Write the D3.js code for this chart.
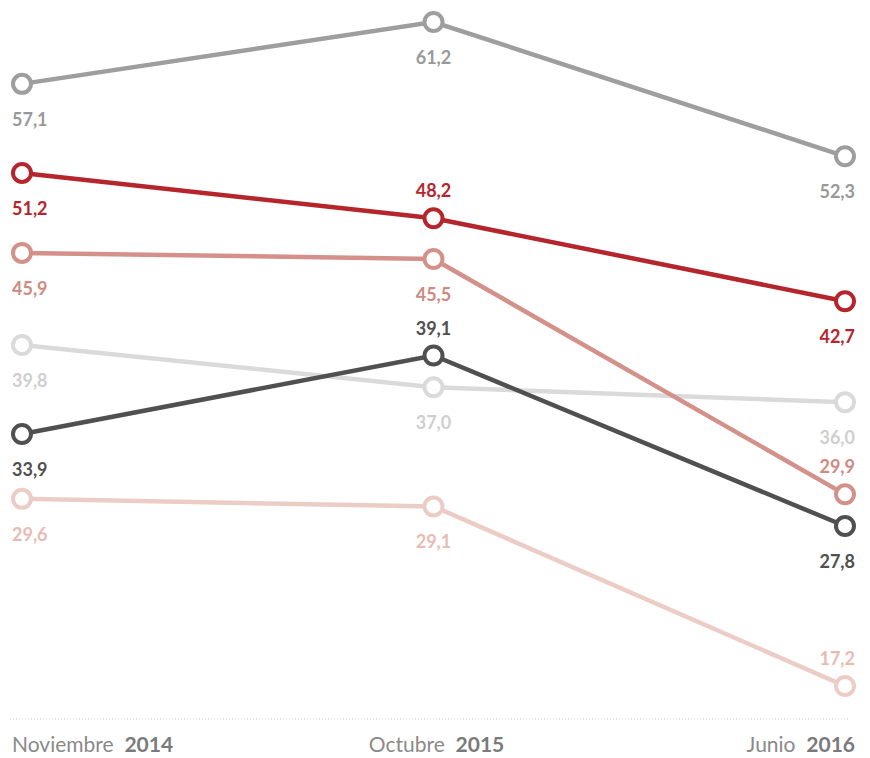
<!DOCTYPE html>
<html><head><meta charset="utf-8">
<script src="https://cdn.jsdelivr.net/npm/d3@7"></script>
<style>body{margin:0;background:#fff}svg{display:block}</style>
</head><body>
<svg id="c" width="870" height="758"></svg>
<script>
const periods = ["Noviembre|2014", "Octubre|2015", "Junio|2016"];
const seriesNames = ["s1","s2","s3","s4","s5","s6"];
const seriesColors = ["#9e9e9e","#b5252c","#d4918a","#dadada","#505050","#eccdc5"];
const labelColors = ["#999999","#b5252c","#d08a82","#cfcfcf","#505050","#e7bcb2"];
const values = [
  [57.1, 61.2, 52.3],
  [51.2, 48.2, 42.7],
  [45.9, 45.5, 29.9],
  [39.8, 37.0, 36.0],
  [33.9, 39.1, 27.8],
  [29.6, 29.1, 17.2]
];
// label position: 1 = below, -1 = above
const labelPos = [
  [1, 1, 1],
  [1, -1, 1],
  [1, 1, -1],
  [1, 1, 1],
  [1, -1, 1],
  [1, 1, -1]
];

const svg = d3.select("#c");
const x = d3.scalePoint().domain(periods).range([22, 845]);
const y = d3.scaleLinear().domain([17.2, 61.2]).range([686, 22]);

// baseline
svg.append("line").attr("x1", 10).attr("x2", 850).attr("y1", 719).attr("y2", 719)
  .attr("stroke", "#cfcfcf").attr("stroke-width", 1).attr("stroke-dasharray", "1,2");

// x axis labels
const anchors = ["start","middle","end"];
const offs = [-10, 0, 10];
periods.forEach((p, i) => {
  const [m, yr] = p.split("|");
  const t = svg.append("text").attr("x", x(p) + offs[i] + (i === 1 ? 3 : 0)).attr("y", 752)
    .attr("text-anchor", anchors[i])
    .attr("font-family", "Lato, 'Open Sans', sans-serif").attr("font-size", 21);
  t.append("tspan").attr("fill", "#8a8a8a").text(m + "\u00a0 ");
  t.append("tspan").attr("fill", "#7a7a7a").attr("font-weight", "bold").text(yr);
});

const line = d3.line().x((d, i) => x(periods[i])).y(d => y(d));
const fmt = v => v.toFixed(1).replace(".", ",");

const order = [5, 3, 2, 4, 0, 1];
order.forEach(s => {
  const g = svg.append("g");
  g.append("path").attr("d", line(values[s])).attr("fill", "none")
    .attr("stroke", seriesColors[s]).attr("stroke-width", 4.5);
  values[s].forEach((v, i) => {
    g.append("circle").attr("cx", x(periods[i])).attr("cy", y(v)).attr("r", 9)
      .attr("fill", "#fff").attr("stroke", seriesColors[s]).attr("stroke-width", 4);
  });
});
seriesNames.forEach((n, s) => {
  values[s].forEach((v, i) => {
    const pos = labelPos[s][i];
    svg.append("text").attr("x", x(periods[i]) + offs[i])
      .attr("y", y(v) + (pos > 0 ? 42 : -21))
      .attr("text-anchor", anchors[i])
      .attr("font-family", "Lato, 'Open Sans', sans-serif").attr("font-weight", "bold")
      .attr("font-size", 18).attr("fill", labelColors[s]).text(fmt(v));
  });
});
</script>
</body></html>
